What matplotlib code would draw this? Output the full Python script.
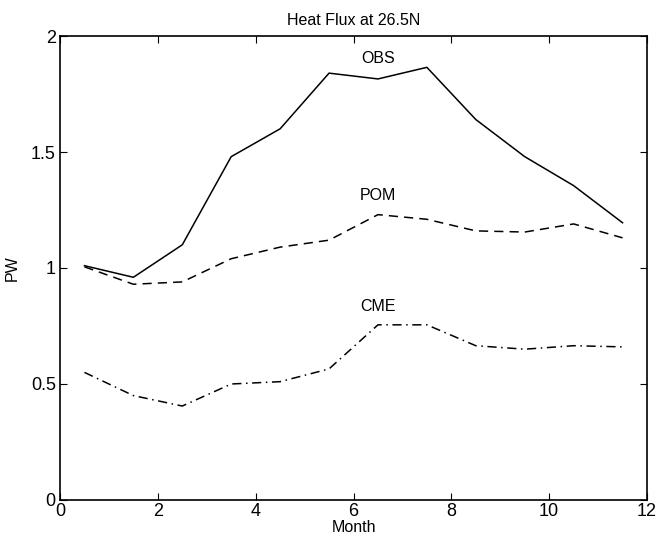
import numpy as np
import matplotlib
matplotlib.use('Agg')
import matplotlib.pyplot as plt

months = [0.5, 1.5, 2.5, 3.5, 4.5, 5.5, 6.5, 7.5, 8.5, 9.5, 10.5, 11.5]
obs = [1.01, 0.96, 1.10, 1.48, 1.60, 1.84, 1.815, 1.865, 1.64, 1.48, 1.355, 1.195]
pom = [1.005, 0.93, 0.94, 1.04, 1.09, 1.12, 1.23, 1.21, 1.16, 1.155, 1.19, 1.13]
cme = [0.55, 0.45, 0.405, 0.50, 0.51, 0.565, 0.755, 0.755, 0.665, 0.65, 0.665, 0.66]

xticks = [0, 2, 4, 6, 8, 10, 12]
yticks = [0, 0.5, 1, 1.5, 2]
yticklabels = ['0', '0.5', '1', '1.5', '2']

plt.rcParams['font.family'] = ['Liberation Sans', 'DejaVu Sans']
plt.rcParams['font.size'] = 11

fig = plt.figure(figsize=(6.68, 5.36), dpi=100)
ax = fig.add_axes([0.0898, 0.0672, 0.8788, 0.8656])

ax.plot(months, obs, color='black', lw=1.1, ls='-')
ax.plot(months, pom, color='black', lw=1.1, ls=(0, (6, 4)))
ax.plot(months, cme, color='black', lw=1.1, ls=(0, (6, 3, 1, 3)))

ax.text(6.5, 1.87, 'OBS', ha='center', va='bottom', fontsize=11.5)
ax.text(6.5, 1.28, 'POM', ha='center', va='bottom', fontsize=11.5)
ax.text(6.5, 0.8, 'CME', ha='center', va='bottom', fontsize=11.5)

ax.set_xlim(0, 12)
ax.set_ylim(0, 2)
ax.set_xticks(xticks)
ax.set_yticks(yticks)
ax.set_yticklabels(yticklabels)
ax.tick_params(direction='in', top=True, right=True, length=5, labelsize=13)
ax.tick_params(axis='x', pad=2)
ax.tick_params(axis='y', pad=3)
for s in ax.spines.values():
    s.set_linewidth(1.2)

ax.set_title('Heat Flux at 26.5N', fontsize=11.5, pad=8)
ax.set_xlabel('Month', fontsize=11.5, labelpad=0)
ax.set_ylabel('PW', fontsize=11.5, labelpad=8)

fig.savefig('out.png', dpi=100)
